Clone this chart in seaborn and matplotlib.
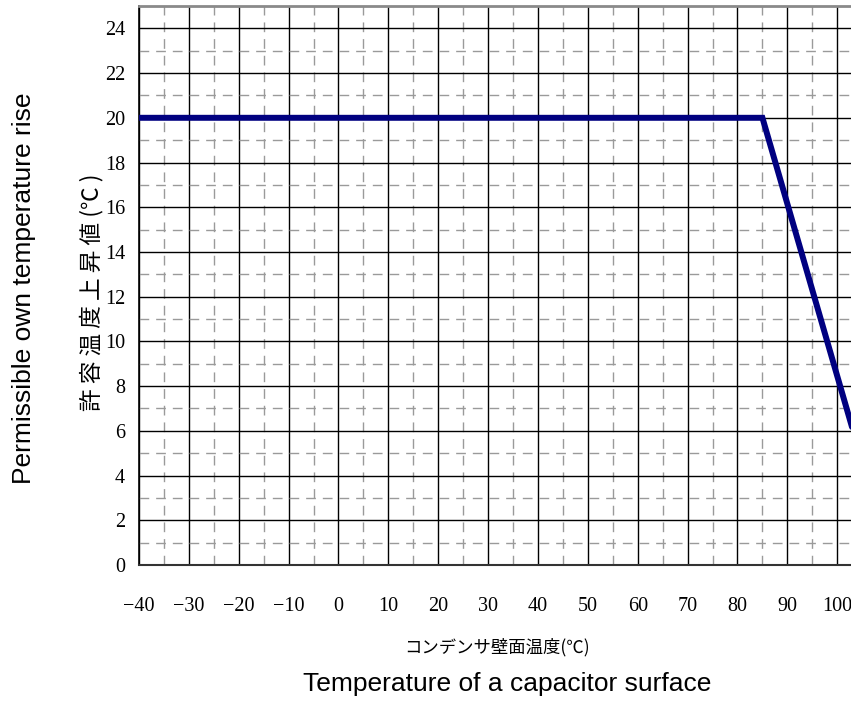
import matplotlib
matplotlib.use("Agg")
import matplotlib.pyplot as plt
import seaborn as sns
import pandas as pd
import numpy as np

# Data
temp_c = [-40, 85, 105]
rise_c = [20, 20, 4.6]
x_ticks = [-40, -30, -20, -10, 0, 10, 20, 30, 40, 50, 60, 70, 80, 90, 100]
y_ticks = [0, 2, 4, 6, 8, 10, 12, 14, 16, 18, 20, 22, 24]
x_label_jp = "コンデンサ壁面温度(℃)"
x_label_en = "Temperature of a capacitor surface"
y_label_jp = "許 容 温 度 上 昇 値 (℃ )"
y_label_en = "Permissible own temperature rise"

df = pd.DataFrame({"temp": temp_c, "rise": rise_c})

sns.set_style("white")
plt.rcParams["font.family"] = ["Liberation Serif", "Noto Sans CJK JP", "DejaVu Sans"]
plt.rcParams["text.color"] = "black"
plt.rcParams["xtick.color"] = "black"
plt.rcParams["ytick.color"] = "black"
plt.rcParams["axes.labelcolor"] = "black"

fig = plt.figure(figsize=(8.51, 7.07), dpi=100)
W, H = 851, 707
ax = fig.add_axes([139 / W, (H - 565) / H, (W - 139) / W + 0.002, (565 - 6) / H])

sns.lineplot(data=df, x="temp", y="rise", ax=ax, color="#000080", lw=4.3,
             solid_joinstyle="miter", zorder=5)

ax.set_xlim(-40, 103.1)
ax.set_ylim(0, 25)
ax.set_xticks(x_ticks)
ax.set_yticks(y_ticks)
ax.set_xticks(np.arange(-35, 104, 10), minor=True)
ax.set_yticks(np.arange(1, 25, 2), minor=True)
ax.set_xticklabels([str(v).replace("-", "\u2212") for v in x_ticks])
ax.set_yticklabels([str(v) for v in y_ticks])

ax.grid(which="major", color="black", lw=1.0, ls="-")
ax.grid(which="minor", color="#9a9a9a", lw=1.0, ls=(0, (7, 5)))
ax.set_axisbelow(True)

ax.tick_params(axis="both", which="both", length=0, labelcolor="black")
ax.tick_params(axis="x", pad=23, labelsize=14.5)
ax.tick_params(axis="y", pad=10, labelsize=14.5)

ax.spines["right"].set_visible(False)
ax.spines["top"].set_color("#8a8a8a")
ax.spines["top"].set_linewidth(2)
ax.spines["bottom"].set_color("#333333")
ax.spines["bottom"].set_linewidth(1.5)
ax.spines["left"].set_color("black")
ax.spines["left"].set_linewidth(1.2)

ax.set_xlabel("")
ax.set_ylabel("")

fig.text(497 / W, 1 - 647 / H, x_label_jp, ha="center", va="center", fontsize=12.5,
         color="black", family=["Noto Sans CJK JP", "DejaVu Sans"])
fig.text(507 / W, 1 - 684 / H, x_label_en, ha="center", va="center", fontsize=19,
         color="black", family=["Liberation Sans", "DejaVu Sans"])
fig.text(92 / W, 1 - 292 / H, y_label_jp, ha="center", va="center", fontsize=16.3,
         rotation=90, color="black", family=["Noto Sans CJK JP", "DejaVu Sans"])
fig.text(24 / W, 1 - 288 / H, y_label_en, ha="center", va="center", fontsize=19,
         rotation=90, color="black", family=["Liberation Sans", "DejaVu Sans"])

fig.savefig("out.png", dpi=100)
